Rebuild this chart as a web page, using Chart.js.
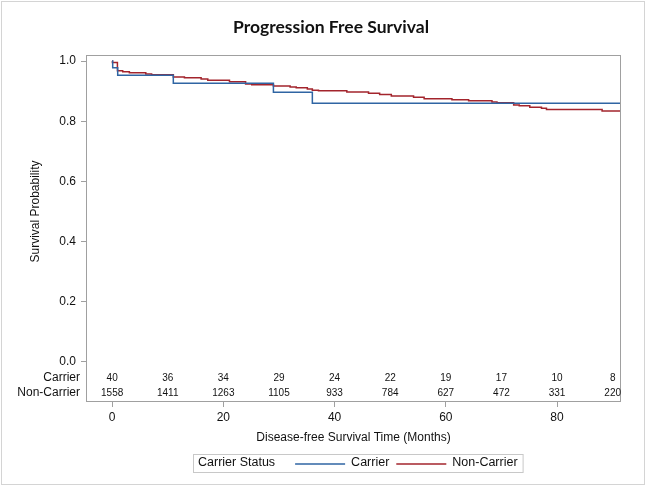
<!DOCTYPE html>
<html>
<head>
<meta charset="utf-8">
<script src="https://cdn.jsdelivr.net/npm/chart.js@4/dist/chart.umd.min.js"></script>
<style>
  html, body { margin: 0; padding: 0; background: #fff; }
  canvas { display: block; }
</style>
</head>
<body>
<canvas id="km" width="646" height="486"></canvas>
<script>
// Kaplan-Meier steps (time in months, survival after the drop)
const carrierTimes = [0, 0.1, 1.0, 11.0, 29.0, 36.0, 91.5]
const carrierSurv  = [1.0, 0.978, 0.953, 0.926, 0.896, 0.860, 0.860]

const nonCarrierTimes = [0, 0.05, 0.95, 1.9, 3.1, 6.05, 7.1, 11.0, 13.0, 16.0, 17.2, 21.1, 24.0, 25.1,
  29.0, 32.0, 33.1, 35.1, 36.0, 37.1, 42.2, 46.1, 48.1, 50.2, 54.2, 56.1, 61.1, 64.1, 68.3, 69.2,
  72.2, 73.2, 75.1, 77.2, 78.1, 88.1, 91.5]
const nonCarrierSurv = [1.0, 0.995, 0.968, 0.964, 0.961, 0.957, 0.954, 0.947, 0.944, 0.940, 0.936, 0.931, 0.924, 0.921,
  0.917, 0.914, 0.911, 0.907, 0.903, 0.901, 0.897, 0.893, 0.889, 0.884, 0.880, 0.875, 0.871, 0.868, 0.864, 0.861,
  0.854, 0.851, 0.846, 0.843, 0.839, 0.834, 0.834]

// numbers at risk
const riskTimes = [0, 10, 20, 30, 40, 50, 60, 70, 80, 90]
const carrierRisk = [40, 36, 34, 29, 24, 22, 19, 17, 10, 8]
const nonCarrierRisk = [1558, 1411, 1263, 1105, 933, 784, 627, 472, 331, 220]

const xTicks = [0, 20, 40, 60, 80]
const yTicks = [0, 0.2, 0.4, 0.6, 0.8, 1.0]

const blue = '#2f65a3'
const red = '#a3242c'
const frameGray = '#a0a0a0'
const txt = '#111'
const font = '"Liberation Sans", Arial, sans-serif'

const pts = (ts, vs) => ts.map((t, i) => ({ x: t, y: vs[i] }))

const extras = {
  id: 'extras',
  beforeDraw(chart) {
    const ctx = chart.ctx
    ctx.save()
    ctx.fillStyle = '#fff'
    ctx.fillRect(0, 0, chart.width, chart.height)
    ctx.restore()
  },
  afterDraw(chart) {
    const { ctx, chartArea: a, scales: { x, y } } = chart
    ctx.save()

    // plot frame
    ctx.strokeStyle = frameGray
    ctx.lineWidth = 1
    ctx.strokeRect(Math.round(a.left) + 0.5, Math.round(a.top) + 0.5,
      Math.round(a.width) - 1, Math.round(a.height) - 1)

    // outer border
    ctx.strokeStyle = '#d4d4d4'
    ctx.strokeRect(1.5, 1.5, chart.width - 3, chart.height - 3)

    // title
    ctx.fillStyle = txt
    ctx.textAlign = 'center'
    ctx.textBaseline = 'middle'
    ctx.font = 'bold 17.5px Lato, "Open Sans", sans-serif'
    ctx.fillText('Progression Free Survival', 331, 27)

    // axis titles
    ctx.font = '12px ' + font
    const yMid = (y.getPixelForValue(0) + y.getPixelForValue(1)) / 2
    ctx.save()
    ctx.translate(36, yMid)
    ctx.rotate(-Math.PI / 2)
    ctx.fillText('Survival Probability', 0, 0)
    ctx.restore()
    ctx.fillText('Disease-free Survival Time (Months)', (a.left + a.right) / 2, 438)

    // at-risk table inside the frame
    const row1 = y.getPixelForValue(0) + 16
    const row2 = row1 + 15
    ctx.textAlign = 'right'
    ctx.fillText('Carrier', a.left - 6, row1)
    ctx.fillText('Non-Carrier', a.left - 6, row2)
    ctx.textAlign = 'center'
    ctx.font = '10px ' + font
    riskTimes.forEach((t, i) => {
      const px = x.getPixelForValue(t)
      ctx.fillText(String(carrierRisk[i]), px, row1)
      ctx.fillText(String(nonCarrierRisk[i]), px, row2)
    })

    // legend
    ctx.font = '12.5px ' + font
    const lx = 193, ly = 454, lh = 18
    const items = [['Carrier', blue], ['Non-Carrier', red]]
    let cx = lx + 5
    const cy = ly + lh / 2
    ctx.textAlign = 'left'
    ctx.fillStyle = txt
    ctx.fillText('Carrier Status', cx, cy)
    cx += ctx.measureText('Carrier Status').width + 20
    items.forEach(([name, col]) => {
      ctx.strokeStyle = col
      ctx.lineWidth = 1.5
      ctx.beginPath()
      ctx.moveTo(cx, cy + 1)
      ctx.lineTo(cx + 50, cy + 1)
      ctx.stroke()
      cx += 56
      ctx.fillText(name, cx, cy)
      cx += ctx.measureText(name).width + 7
    })
    cx -= 2
    ctx.strokeStyle = '#c8c8c8'
    ctx.lineWidth = 1
    ctx.strokeRect(lx + 0.5, ly + 0.5, cx - lx, lh)

    ctx.restore()
  }
}

new Chart(document.getElementById('km'), {
  type: 'line',
  data: {
    datasets: [
      {
        label: 'Carrier',
        data: pts(carrierTimes, carrierSurv),
        borderColor: blue,
        borderWidth: 1.5,
        stepped: true,
        pointRadius: 0,
        fill: false
      },
      {
        label: 'Non-Carrier',
        data: pts(nonCarrierTimes, nonCarrierSurv),
        borderColor: red,
        borderWidth: 1.5,
        stepped: true,
        pointRadius: 0,
        fill: false
      }
    ]
  },
  options: {
    responsive: false,
    animation: false,
    layout: { padding: { top: 55, right: 25, bottom: 0, left: 0 } },
    plugins: { legend: { display: false }, title: { display: false }, tooltip: { enabled: false } },
    scales: {
      x: {
        type: 'linear',
        min: -4.7,
        max: 91.5,
        afterBuildTicks: s => { s.ticks = xTicks.map(v => ({ value: v })) },
        afterFit: s => { s.height = 84 },
        border: { display: false },
        grid: { drawOnChartArea: false, drawTicks: true, tickLength: 5, color: frameGray },
        ticks: { color: txt, font: { family: font, size: 12 }, padding: 3, maxRotation: 0 }
      },
      y: {
        min: -0.133,
        max: 1.02,
        afterBuildTicks: s => { s.ticks = yTicks.map(v => ({ value: v })) },
        afterFit: s => { s.width = 86 },
        border: { display: false },
        grid: { drawOnChartArea: false, drawTicks: true, tickLength: 5, color: frameGray },
        ticks: { color: txt, font: { family: font, size: 12 }, padding: 5, callback: v => v.toFixed(1) }
      }
    }
  },
  plugins: [extras]
})
</script>
</body>
</html>
